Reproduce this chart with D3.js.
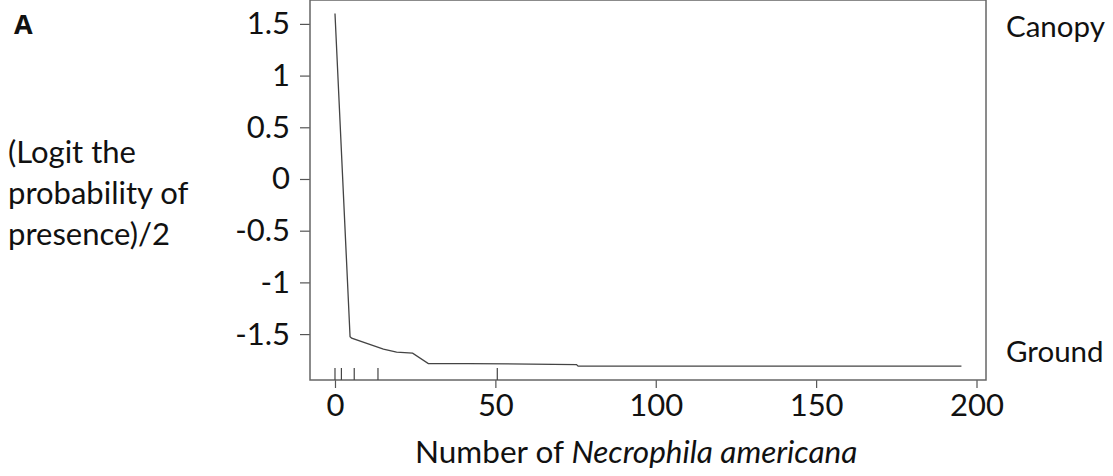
<!DOCTYPE html>
<html>
<head>
<meta charset="utf-8">
<script src="https://cdn.jsdelivr.net/npm/d3@7"></script>
<style>
  body { margin: 0; background: #fff; }
  svg text { fill: #111; }
</style>
</head>
<body>
<div id="chart"></div>
<script>
// curve values
var xVals = [0, 4.7, 5.2, 15.1, 19.2, 24.2, 29.1, 41.5, 75.3, 75.8, 195.3];
var yVals = [1.60, -1.525, -1.54, -1.645, -1.675, -1.685, -1.785, -1.785, -1.795, -1.81, -1.81];
// rug marks along the x axis
var rugVals = [0, 2, 6, 13.4, 50.6];
var xTicks = [0, 50, 100, 150, 200];
var yTicks = [1.5, 1, 0.5, 0, -0.5, -1, -1.5];
var yLabelLines = ["(Logit the", "probability of", "presence)/2"];

var W = 1113, H = 476;
var plot = {left: 310, right: 986, top: 0, bottom: 380};
var font = "Lato, 'Open Sans', sans-serif";

var svg = d3.select("#chart").append("svg")
  .attr("width", W)
  .attr("height", H)
  .style("font-family", font);

var x = d3.scaleLinear().domain([-7.79, 202.96]).range([plot.left, plot.right]);
var y = d3.scaleLinear().domain([-1.944, 1.731]).range([plot.bottom, plot.top]);

var fmt = function(d) { return String(d).replace("\u2212", "-"); };

// y axis
var yAxis = svg.append("g")
  .attr("transform", "translate(" + plot.left + ",0)")
  .call(d3.axisLeft(y).tickValues(yTicks).tickSize(10).tickPadding(10).tickFormat(fmt));
yAxis.select(".domain").remove();
yAxis.selectAll("line").attr("stroke", "#555").attr("stroke-width", 1.2);
yAxis.selectAll("text")
  .attr("font-size", 31)
  .attr("fill", "#111")
  .attr("font-family", font);

// x axis
var xAxis = svg.append("g")
  .attr("transform", "translate(0," + plot.bottom + ")")
  .call(d3.axisBottom(x).tickValues(xTicks).tickSize(8).tickPadding(6).tickFormat(fmt));
xAxis.select(".domain").remove();
xAxis.selectAll("line").attr("stroke", "#555").attr("stroke-width", 1.2);
xAxis.selectAll("text")
  .attr("font-size", 31)
  .attr("fill", "#111")
  .attr("font-family", font);

// frame
svg.append("rect")
  .attr("x", plot.left)
  .attr("y", plot.top)
  .attr("width", plot.right - plot.left)
  .attr("height", plot.bottom - plot.top)
  .attr("fill", "none")
  .attr("stroke", "#666")
  .attr("stroke-width", 1.5);

// rug
svg.selectAll(".rug")
  .data(rugVals)
  .enter().append("line")
  .attr("class", "rug")
  .attr("x1", function(d) { return x(d); })
  .attr("x2", function(d) { return x(d); })
  .attr("y1", plot.bottom - 12)
  .attr("y2", plot.bottom)
  .attr("stroke", "#444")
  .attr("stroke-width", 1.2);

// curve
var pts = xVals.map(function(d, i) { return [d, yVals[i]]; });
var line = d3.line()
  .x(function(d) { return x(d[0]); })
  .y(function(d) { return y(d[1]); });
svg.append("path")
  .datum(pts)
  .attr("d", line)
  .attr("fill", "none")
  .attr("stroke", "#444")
  .attr("stroke-width", 1.3);

// panel letter
svg.append("text")
  .attr("x", 14)
  .attr("y", 34)
  .style("font-family", "'Open Sans', 'DejaVu Sans', sans-serif")
  .style("font-weight", "700")
  .style("font-size", "27px")
  .text("A");

// y label
svg.append("g").selectAll("text")
  .data(yLabelLines)
  .enter().append("text")
  .attr("x", 8)
  .attr("y", function(d, i) { return 163 + i * 41; })
  .attr("font-size", 31)
  .text(function(d) { return d; });

// right side labels
svg.append("text").attr("x", 1006).attr("y", 37).attr("font-size", 29.5).text("Canopy");
svg.append("text").attr("x", 1006).attr("y", 362).attr("font-size", 29.5).text("Ground");

// x title
var xt = svg.append("text")
  .attr("x", 415)
  .attr("y", 463)
  .attr("font-size", 31.5);
xt.append("tspan").text("Number of ");
xt.append("tspan").attr("font-style", "italic").text("Necrophila americana");
</script>
</body>
</html>
